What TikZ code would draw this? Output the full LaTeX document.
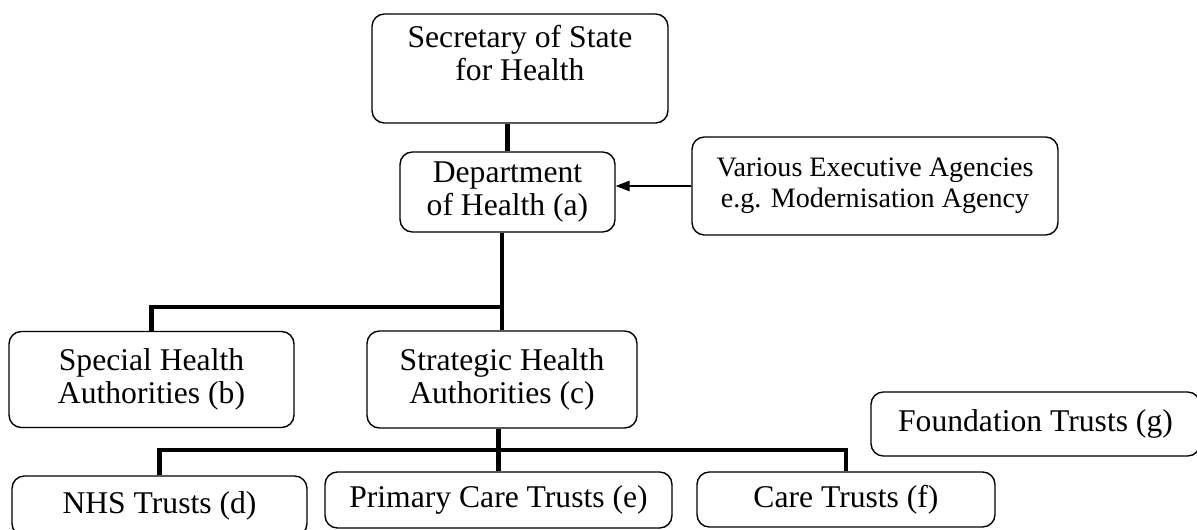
\documentclass[tikz,border=0pt]{standalone}
\usepackage{fontspec}
\setmainfont{Liberation Serif}
\usetikzlibrary{arrows.meta}

\begin{document}
\begin{tikzpicture}[x=0.02cm, y=-0.02cm,
  orgbox/.style={draw, line width=0.8pt, rounded corners=7pt, align=center,
    inner sep=0pt, font=\fontsize{18}{19}\selectfont},
  tie/.style={line width=2.8pt}]
\useasboundingbox (0,0) rectangle (1197,530);
\clip (0,0) rectangle (1197,530);

% top of the tree
\node[orgbox, minimum width=5.92cm, minimum height=2.18cm] (sec) at (520,68.5)
  {Secretary of State\\for Health\rule[-18pt]{0pt}{18pt}};
\node[orgbox, minimum width=4.3cm, minimum height=1.6cm] (dept) at (507.5,192)
  {Department\\of Health (a)};
\node[orgbox, minimum width=7.32cm, minimum height=1.96cm,
  font=\fontsize{16}{17.5}\selectfont] (agen) at (875,186)
  {Various Executive Agencies\\e.g. Modernisation Agency};

% authorities
\node[orgbox, minimum width=5.7cm, minimum height=1.92cm] (spec) at (151.5,379.5)
  {Special Health\\Authorities (b)};
\node[orgbox, minimum width=5.4cm, minimum height=1.94cm] (strat) at (502,379.5)
  {Strategic Health\\Authorities (c)};
\node[orgbox, minimum width=6.58cm, minimum height=1.28cm] (found) at (1035.5,424)
  {Foundation Trusts (g)};

% trusts
\node[orgbox, minimum width=5.9cm, minimum height=1.2cm] (nhs) at (159.5,506)
  {NHS Trusts (d)};
\node[orgbox, minimum width=6.94cm, minimum height=1.12cm] (prim) at (498.5,500)
  {Primary Care Trusts (e)};
\node[orgbox, minimum width=5.96cm, minimum height=1.1cm] (care) at (846,499.5)
  {Care Trusts (f)};

\coordinate (fork1) at (strat.north |- 0,307);
\coordinate (fork2) at (prim.north |- 0,450);

\draw[tie] (dept.north) -- (dept.north |- sec.south);
\draw[tie] (strat.north) -- (strat.north |- dept.south);
\draw[tie] (spec.north) |- (fork1);
\draw[tie] (prim.north) -- (prim.north |- strat.south);
\draw[tie] (nhs.north) |- (fork2) -| (care.north);
\draw[line width=0.8pt, -{Triangle[length=8pt,width=6pt]}] (agen.west) -- (agen.west -| dept.east);
\end{tikzpicture}
\end{document}
